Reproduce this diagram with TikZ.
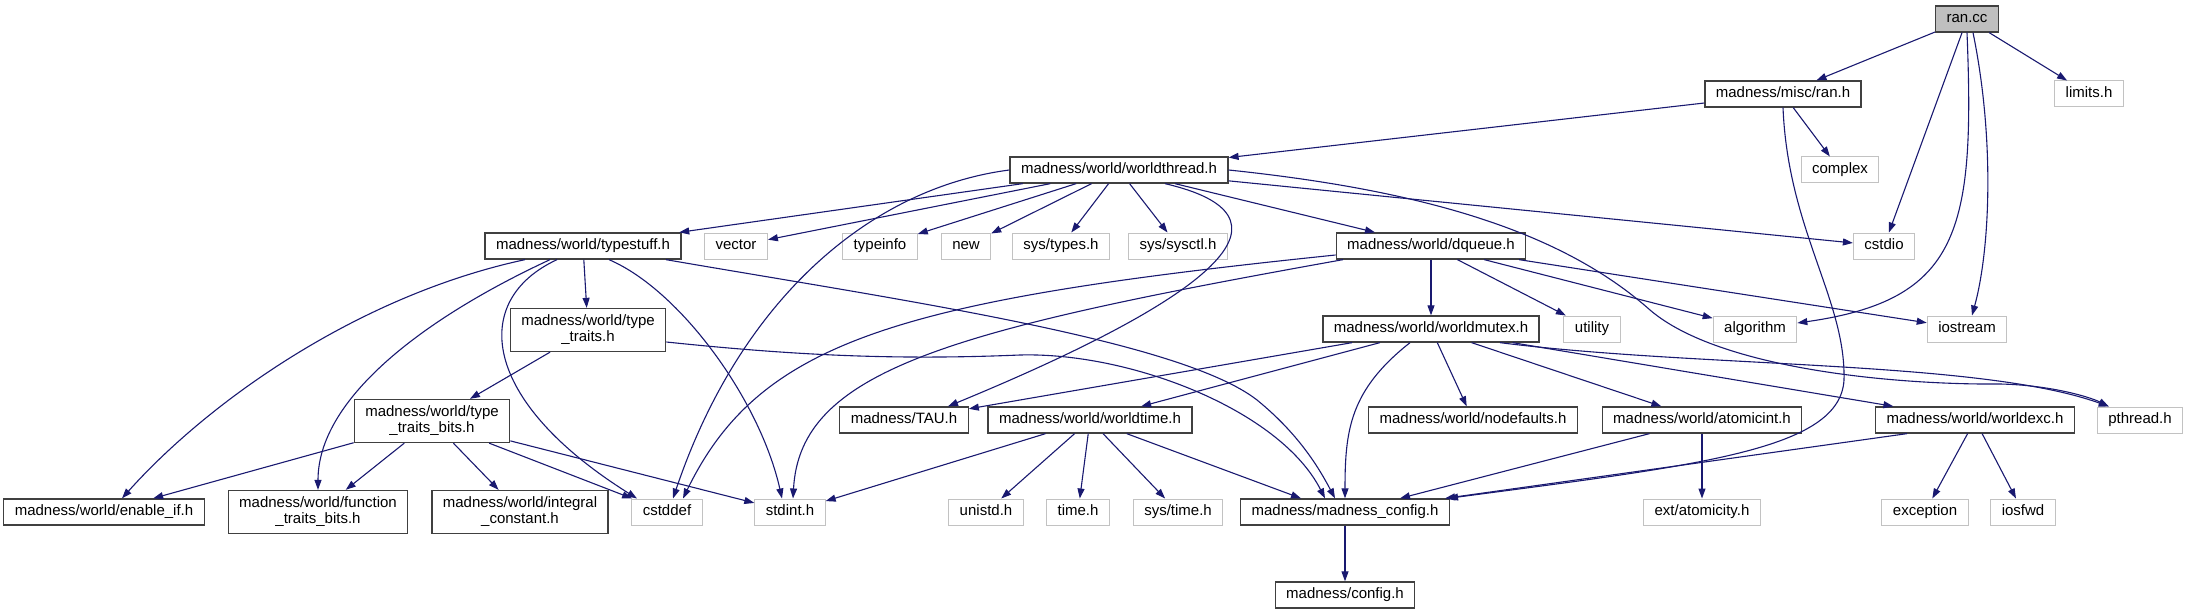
\documentclass[tikz,border=0pt]{standalone}
\usepackage{fontspec}
\setmainfont{Liberation Sans}
\usetikzlibrary{arrows.meta}
\usepackage{xcolor}
\definecolor{edgeblue}{rgb}{0.10, 0.10, 0.44}
\definecolor{rootgray}{rgb}{0.75, 0.75, 0.75}
\definecolor{sysgray}{rgb}{0.76, 0.76, 0.76}
\definecolor{boxline}{rgb}{0.25, 0.25, 0.25}

\begin{document}
\begin{tikzpicture}[x=1pt,y=-1pt,
    filebox/.style={draw=boxline,line width=1.3pt,fill=white,inner xsep=11pt,inner ysep=0pt,font=\fontsize{15}{16}\selectfont},
    hdr/.style={filebox,minimum height=26pt,text height=11pt,text depth=3.5pt},
    hdrtwo/.style={filebox,align=center,minimum height=43pt},
    sys/.style={hdr,draw=sysgray,line width=1pt},
    root/.style={hdr,fill=rootgray},
    inc/.style={draw=edgeblue,line width=1.1pt,-{Triangle[length=10pt,width=7pt]}}]
    \useasboundingbox (0,0) rectangle (2188,615);

    \node[root] (ran) at (1967,19) {ran.cc};
    \node[hdr] (ranh) at (1783,94) {madness/misc/ran.h};
    \node[sys] (limits) at (2089,94) {limits.h};
    \node[sys] (complex) at (1840,170) {complex};
    \node[hdr] (worldthread) at (1119,170) {madness/world/worldthread.h};

    \node[hdr] (typestuff) at (583,246) {madness/world/typestuff.h};
    \node[sys] (vector) at (736,246) {vector};
    \node[sys] (typeinfo) at (880,246) {typeinfo};
    \node[sys] (cnew) at (966,246) {new};
    \node[sys] (systypes) at (1061,246) {sys/types.h};
    \node[sys] (syssysctl) at (1178,246) {sys/sysctl.h};
    \node[hdr] (dqueue) at (1431,246) {madness/world/dqueue.h};
    \node[sys] (cstdio) at (1884,246) {cstdio};

    \node[hdrtwo] (typetraits) at (588,330) {madness/world/type\\\_traits.h};
    \node[hdr] (worldmutex) at (1431,329) {madness/world/worldmutex.h};
    \node[sys] (utility) at (1592,329) {utility};
    \node[sys] (algorithm) at (1755,329) {algorithm};
    \node[sys] (iostream) at (1967,329) {iostream};

    \node[hdrtwo] (typetraitsbits) at (432,421) {madness/world/type\\\_traits\_bits.h};
    \node[hdr] (tau) at (904,420) {madness/TAU.h};
    \node[hdr] (worldtime) at (1090,420) {madness/world/worldtime.h};
    \node[hdr] (nodefaults) at (1473,420) {madness/world/nodefaults.h};
    \node[hdr] (atomicint) at (1702,420) {madness/world/atomicint.h};
    \node[hdr] (worldexc) at (1975,420) {madness/world/worldexc.h};
    \node[sys] (pthread) at (2140,420) {pthread.h};

    \node[hdr] (enableif) at (104,512) {madness/world/enable\_if.h};
    \node[hdrtwo] (functraits) at (318,512) {madness/world/function\\\_traits\_bits.h};
    \node[hdrtwo] (integral) at (520,512) {madness/world/integral\\\_constant.h};
    \node[sys] (cstddef) at (667,512) {cstddef};
    \node[sys] (stdint) at (790,512) {stdint.h};
    \node[sys] (unistd) at (986,512) {unistd.h};
    \node[sys] (timeh) at (1078,512) {time.h};
    \node[sys] (systime) at (1178,512) {sys/time.h};
    \node[hdr] (madconfig) at (1345,512) {madness/madness\_config.h};
    \node[sys] (atomicity) at (1702,512) {ext/atomicity.h};
    \node[sys] (exception) at (1925,512) {exception};
    \node[sys] (iosfwd) at (2023,512) {iosfwd};

    \node[hdr] (config) at (1345,595) {madness/config.h};

    % ran.cc
    \draw[inc] (ran) -- (ranh);
    \draw[inc] (ran) -- (cstdio);
    \draw[inc] (ran) -- (limits);
    \draw[inc] (ran.south) .. controls (1975,230) and (1960,300) .. ([yshift=6pt]algorithm.east);
    \draw[inc] ([xshift=6pt]ran.south) .. controls (1995,140) and (1990,250) .. ([xshift=5pt]iostream.north);

    % misc/ran.h
    \draw[inc] (ranh) -- (worldthread);
    \draw[inc] (ranh) -- (complex);
    \draw[inc] (ranh.south) .. controls (1788,230) and (1846,300) .. (1844,380)
        .. controls (1840,450) and (1700,465) .. ([xshift=-2pt]madconfig.north east);

    % worldthread.h
    \draw[inc] (worldthread) -- (typestuff);
    \draw[inc] (worldthread) -- (vector);
    \draw[inc] (worldthread) -- (typeinfo);
    \draw[inc] (worldthread) -- (cnew);
    \draw[inc] (worldthread) -- (systypes);
    \draw[inc] (worldthread) -- (syssysctl);
    \draw[inc] (worldthread) -- (dqueue);
    \draw[inc] (worldthread) -- (cstdio);
    \draw[inc] (worldthread.west) .. controls (870,188) and (740,300) .. ([xshift=6pt]cstddef.north);
    \draw[inc] ([xshift=46pt]worldthread.south) .. controls (1300,215) and (1230,290) .. ([xshift=44pt]tau.north);
    \draw[inc] (worldthread.east) .. controls (1420,190) and (1560,230) .. (1650,310)
        .. controls (1720,370) and (1900,385) .. (2000,384)
        .. controls (2050,385) and (2090,397) .. ([xshift=12pt]pthread.north west);

    % typestuff.h
    \draw[inc] (typestuff) -- (typetraits);
    \draw[inc] ([xshift=-58pt]typestuff.south) .. controls (360,295) and (210,400) .. ([xshift=18pt]enableif.north);
    \draw[inc] ([xshift=-33pt]typestuff.south) .. controls (420,320) and (318,400) .. (functraits.north);
    \draw[inc] ([xshift=-26pt]typestuff.south) .. controls (470,300) and (480,400) .. ([xshift=-30pt]cstddef.north);
    \draw[inc] ([xshift=26pt]typestuff.south) .. controls (680,290) and (760,400) .. ([xshift=-8pt]stdint.north);
    \draw[inc] ([xshift=83pt]typestuff.south) .. controls (900,300) and (1180,340) .. (1257,400)
        .. controls (1300,435) and (1320,470) .. ([xshift=-10pt]madconfig.north);

    % type_traits.h
    \draw[inc] (typetraits) -- (typetraitsbits);
    \draw[inc] ([yshift=-12pt]typetraits.east) .. controls (800,356) and (900,360) .. (1020,355)
        .. controls (1130,352) and (1280,410) .. ([xshift=-20pt]madconfig.north);

    % type_traits_bits.h
    \draw[inc] (typetraitsbits) -- (enableif);
    \draw[inc] (typetraitsbits) -- (functraits);
    \draw[inc] (typetraitsbits) -- (integral);
    \draw[inc] (typetraitsbits) -- (cstddef);
    \draw[inc] (typetraitsbits) -- (stdint);

    % dqueue.h
    \draw[inc] (dqueue) -- (worldmutex);
    \draw[inc] (dqueue) -- (utility);
    \draw[inc] (dqueue) -- (algorithm);
    \draw[inc] (dqueue) -- (iostream);
    \draw[inc] ([yshift=-9pt]dqueue.west) .. controls (900,300) and (760,340) .. ([xshift=16pt]cstddef.north);
    \draw[inc] ([xshift=-88pt]dqueue.south) .. controls (950,330) and (800,370) .. ([xshift=3pt]stdint.north);

    % worldmutex.h
    \draw[inc] (worldmutex) -- (tau);
    \draw[inc] (worldmutex) -- (worldtime);
    \draw[inc] (worldmutex) -- (nodefaults);
    \draw[inc] (worldmutex) -- (atomicint);
    \draw[inc] (worldmutex) -- (worldexc);
    \draw[inc] ([xshift=-21pt]worldmutex.south) .. controls (1350,390) and (1345,430) .. (madconfig.north);
    \draw[inc] ([xshift=69pt]worldmutex.south) .. controls (1700,368) and (1980,360) .. ([xshift=12pt]pthread.north west);

    % worldtime.h
    \draw[inc] (worldtime) -- (stdint);
    \draw[inc] (worldtime) -- (unistd);
    \draw[inc] (worldtime) -- (timeh);
    \draw[inc] (worldtime) -- (systime);
    \draw[inc] (worldtime) -- ([xshift=-44pt]madconfig.north);

    % atomicint.h, worldexc.h
    \draw[inc] (atomicint) -- ([xshift=55pt]madconfig.north);
    \draw[inc] (atomicint) -- (atomicity);
    \draw[inc] ([xshift=32pt]worldexc.south west) -- ([xshift=-5pt]madconfig.north east);
    \draw[inc] (worldexc) -- (exception);
    \draw[inc] (worldexc) -- (iosfwd);

    \draw[inc] (madconfig) -- (config);
\end{tikzpicture}
\end{document}
